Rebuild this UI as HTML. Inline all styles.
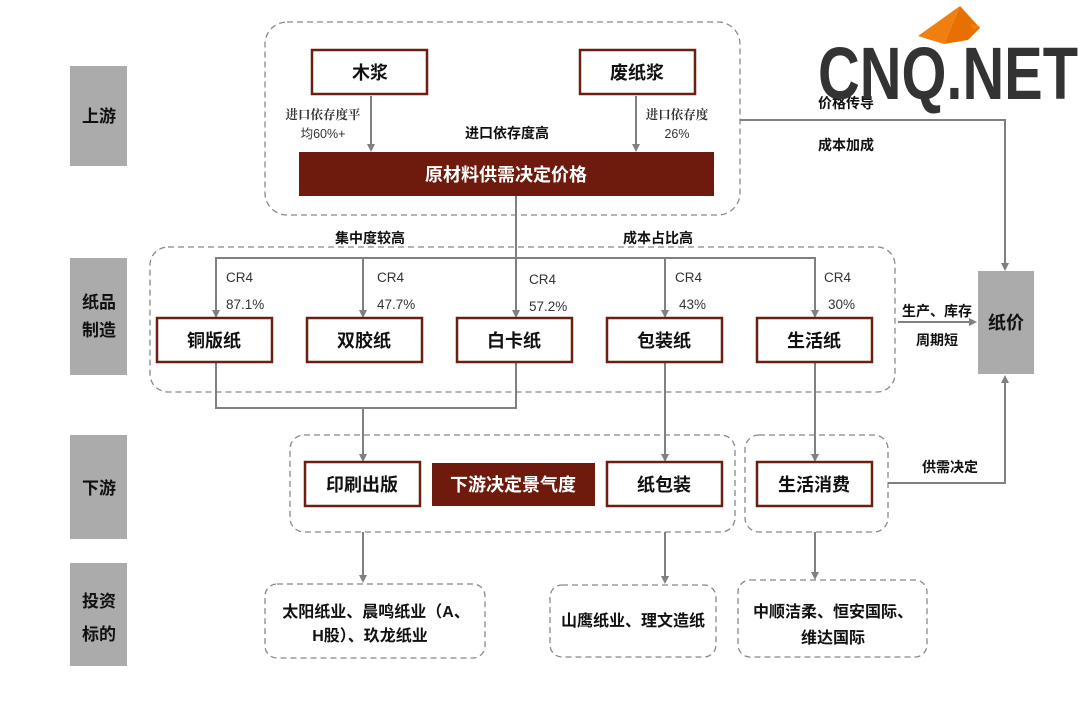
<!DOCTYPE html>
<html><head><meta charset="utf-8"><style>
html,body{margin:0;padding:0;background:#fff;}
svg text{font-family:"Liberation Sans","Noto Sans CJK SC",sans-serif;}
.cn{font-family:"Noto Serif CJK SC","Noto Sans CJK SC",sans-serif;font-weight:bold;}
</style></head><body>
<svg width="1080" height="699" viewBox="0 0 1080 699" xmlns="http://www.w3.org/2000/svg">
<defs>
<marker id="a" markerWidth="8" markerHeight="8" refX="6" refY="4" orient="auto" markerUnits="userSpaceOnUse"><path d="M0,0 L8,4 L0,8 Z" fill="#808080"/></marker>
</defs>
<rect width="1080" height="699" fill="#fff"/>
<g fill="#ababab">
<rect x="70" y="66" width="57" height="100"/>
<rect x="70" y="258" width="57" height="117"/>
<rect x="70" y="435" width="57" height="104"/>
<rect x="70" y="563" width="57" height="103"/>
</g>
<g class="cn" font-size="17" fill="#111" text-anchor="middle">
<text x="99" y="122">上游</text>
<text x="99" y="308">纸品</text><text x="99" y="336">制造</text>
<text x="99" y="494">下游</text>
<text x="99" y="607">投资</text><text x="99" y="640">标的</text>
</g>
<g fill="none" stroke="#888" stroke-width="1.3" stroke-dasharray="6,4">
<rect x="265" y="22" width="475" height="193" rx="22"/>
<rect x="150" y="247" width="745" height="145" rx="18"/>
<rect x="290" y="435" width="445" height="97" rx="14"/>
<rect x="745" y="435" width="143" height="97" rx="14"/>
<rect x="265" y="584" width="220" height="74" rx="12"/>
<rect x="550" y="585" width="166" height="72" rx="12"/>
<rect x="738" y="580" width="189" height="77" rx="12"/>
</g>
<g fill="none" stroke="#808080" stroke-width="2">
<line x1="371" y1="96" x2="371" y2="150" marker-end="url(#a)"/>
<line x1="636" y1="96" x2="636" y2="150" marker-end="url(#a)"/>
<line x1="516" y1="196" x2="516" y2="316" marker-end="url(#a)"/>
<polyline points="216,316 216,258 815,258 815,316"/>
<line x1="216" y1="258" x2="216" y2="316" marker-end="url(#a)"/>
<line x1="363" y1="258" x2="363" y2="316" marker-end="url(#a)"/>
<line x1="665" y1="258" x2="665" y2="316" marker-end="url(#a)"/>
<line x1="815" y1="258" x2="815" y2="316" marker-end="url(#a)"/>
<polyline points="216,362 216,408 516,408 516,362"/>
<line x1="363" y1="408" x2="363" y2="460" marker-end="url(#a)"/>
<line x1="665" y1="362" x2="665" y2="460" marker-end="url(#a)"/>
<line x1="815" y1="362" x2="815" y2="460" marker-end="url(#a)"/>
<line x1="363" y1="532" x2="363" y2="581" marker-end="url(#a)"/>
<line x1="665" y1="532" x2="665" y2="582" marker-end="url(#a)"/>
<line x1="815" y1="532" x2="815" y2="578" marker-end="url(#a)"/>
<polyline points="740,120 1005,120 1005,269" marker-end="url(#a)"/>
<line x1="898" y1="322" x2="975" y2="322" marker-end="url(#a)"/>
<polyline points="888,483 1005,483 1005,377" marker-end="url(#a)"/>
</g>
<g fill="#fff" stroke="#6b1f10" stroke-width="2.5">
<rect x="312" y="50" width="115" height="44"/>
<rect x="580" y="50" width="115" height="44"/>
<rect x="157" y="318" width="115" height="44"/>
<rect x="307" y="318" width="115" height="44"/>
<rect x="457" y="318" width="115" height="44"/>
<rect x="607" y="318" width="115" height="44"/>
<rect x="757" y="318" width="115" height="44"/>
<rect x="305" y="462" width="115" height="44"/>
<rect x="607" y="462" width="115" height="44"/>
<rect x="757" y="462" width="115" height="44"/>
</g>
<rect x="299" y="152" width="415" height="44" fill="#6e1a0c"/>
<rect x="432" y="463" width="163" height="43" fill="#6e1a0c"/>
<rect x="978" y="271" width="56" height="103" fill="#ababab"/>
<g class="cn" font-size="18" fill="#111" text-anchor="middle">
<text x="370" y="79">木浆</text>
<text x="637" y="79">废纸浆</text>
<text x="214" y="347">铜版纸</text>
<text x="364" y="347">双胶纸</text>
<text x="514" y="347">白卡纸</text>
<text x="664" y="347">包装纸</text>
<text x="814" y="347">生活纸</text>
<text x="362" y="491">印刷出版</text>
<text x="664" y="491">纸包装</text>
<text x="814" y="491">生活消费</text>
<text x="1006" y="329">纸价</text>
<text x="506" y="181" fill="#fff">原材料供需决定价格</text>
<text x="513" y="491" fill="#fff">下游决定景气度</text>
</g>
<g class="cn" font-size="14" fill="#111" text-anchor="middle">
<text x="507" y="138">进口依存度高</text>
<text x="370" y="243">集中度较高</text>
<text x="658" y="243">成本占比高</text>
<text x="846" y="108">价格传导</text>
<text x="846" y="150">成本加成</text>
<text x="937" y="316">生产、库存</text>
<text x="937" y="345">周期短</text>
<text x="950" y="472">供需决定</text>
</g>
<g font-size="12.5" fill="#333" text-anchor="middle">
<text x="323" y="119" class="cn" font-weight="normal">进口依存度平</text>
<text x="323" y="138">均60%+</text>
<text x="677" y="119" class="cn" font-weight="normal">进口依存度</text>
<text x="677" y="138">26%</text>
</g>
<g font-size="13.5" fill="#333">
<text x="226" y="282">CR4</text><text x="226" y="309">87.1%</text>
<text x="377" y="282">CR4</text><text x="377" y="309">47.7%</text>
<text x="529" y="284">CR4</text><text x="529" y="311">57.2%</text>
<text x="675" y="282">CR4</text><text x="679" y="309">43%</text>
<text x="824" y="282">CR4</text><text x="828" y="309">30%</text>
</g>
<g class="cn" font-size="16" fill="#111" text-anchor="middle">
<text x="376" y="617">太阳纸业、晨鸣纸业（A、</text>
<text x="370" y="641">H股）、玖龙纸业</text>
<text x="633" y="626">山鹰纸业、理文造纸</text>
<text x="833" y="617">中顺洁柔、恒安国际、</text>
<text x="833" y="643">维达国际</text>
</g>
<!-- logo -->
<polygon points="960,6 918,36 944,44" fill="#f07f10"/>
<polygon points="960,6 944,44 968,40 980,28" fill="#e87000"/>
<polygon points="970,24 980,26 974,30" fill="#f07f10"/>
<text x="948" y="99" font-family="Liberation Sans" font-weight="bold" font-size="74" fill="#333" text-anchor="middle" textLength="260" lengthAdjust="spacingAndGlyphs">CNQ.NET</text>
</svg>
</body></html>
